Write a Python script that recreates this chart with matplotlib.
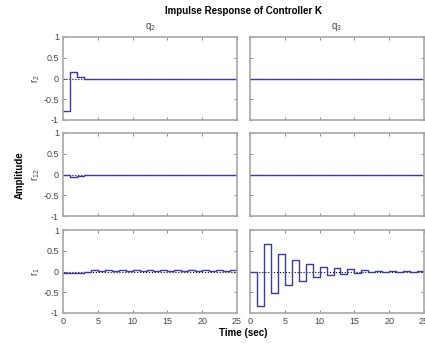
import matplotlib.pyplot as plt
import numpy as np

plt.rcParams['font.family'] = ['Liberation Sans', 'DejaVu Sans']
plt.rcParams['mathtext.default'] = 'regular'

# discrete impulse response samples, sample time 1 s, k = 0..25
t = np.arange(0, 26)

r2_q2 = [-0.79, 0.15, 0.03, -0.02] + [0.0] * 22
r2_q3 = [0.0] * 26
r12_q2 = [-0.01, -0.07, -0.03] + [0.0] * 23
r12_q3 = [0.0] * 26
r1_q2 = [-0.03, -0.03, -0.03, 0.0, 0.025, 0.005, 0.025, 0.005, 0.025, 0.005,
         0.025, 0.005, 0.025, 0.005, 0.025, 0.005, 0.025, 0.005, 0.025, 0.005,
         0.025, 0.005, 0.025, 0.005, 0.025, 0.005]
r1_q3 = [0.0, -0.82, 0.66, -0.51, 0.42, -0.33, 0.28, -0.22, 0.18, -0.13,
         0.12, -0.09, 0.08, -0.05, 0.05, -0.04, 0.04, -0.02, 0.02, 0.0,
         0.01, 0.0, 0.01, 0.0, 0.01, 0.0]

data = [[r2_q2, r2_q3], [r12_q2, r12_q3], [r1_q2, r1_q3]]
row_labels = ['$r_{2}$', '$r_{12}$', '$r_{1}$']
col_labels = ['$q_{2}$', '$q_{3}$']
yticks = [-1, -0.5, 0, 0.5, 1]
ytick_labels = ['-1', '-0.5', '0', '0.5', '1']
xticks = [0, 5, 10, 15, 20, 25]

W, H = 425, 343
fig = plt.figure(figsize=(W / 100, H / 100), dpi=100)

lefts = [63, 250]
tops = [37, 133, 230]
aw, ah = 174, 83
line_col = '#3a3aa0'
frame_col = '#a8a8a8'
text_col = '#444444'

for i in range(3):
    for j in range(2):
        ax = fig.add_axes([lefts[j] / W, 1 - (tops[i] + ah) / H, aw / W, ah / H])
        ax.plot([0, 25], [0, 0], ':', color='black', lw=0.8)
        ax.step(t, data[i][j], where='post', color=line_col, lw=1.0)
        ax.set_xlim(0, 25)
        ax.set_ylim(-1, 1)
        ax.set_xticks(xticks)
        ax.set_yticks(yticks)
        ax.tick_params(direction='in', length=2, width=0.6, color='#777777',
                       top=True, right=True, labelsize=6.5, labelcolor=text_col, pad=3)
        for s in ax.spines.values():
            s.set_color(frame_col)
            s.set_linewidth(1.2)
        if j == 0:
            ax.set_yticklabels(ytick_labels, rotation=0)
            fig.text(36 / W, 1 - (tops[i] + ah / 2) / H, row_labels[i], rotation=90,
                     ha='center', va='center', fontsize=7, color=text_col)
        else:
            ax.set_yticklabels([])
        if i == 2:
            ax.set_xticklabels([str(x) for x in xticks])
        else:
            ax.set_xticklabels([])
        if i == 0:
            ax.set_title(col_labels[j], fontsize=7, color=text_col, pad=6)

fig.text(243.5 / W, 1 - 11 / H, 'Impulse Response of Controller K', ha='center',
         va='center', fontsize=7, fontweight='bold')
fig.text(243.5 / W, 1 - 333 / H, 'Time (sec)', ha='center', va='center',
         fontsize=7, fontweight='bold')
fig.text(20 / W, 1 - 175 / H, 'Amplitude', ha='center', va='center',
         rotation=90, fontsize=7, fontweight='bold')

fig.savefig('out.png', dpi=100)
